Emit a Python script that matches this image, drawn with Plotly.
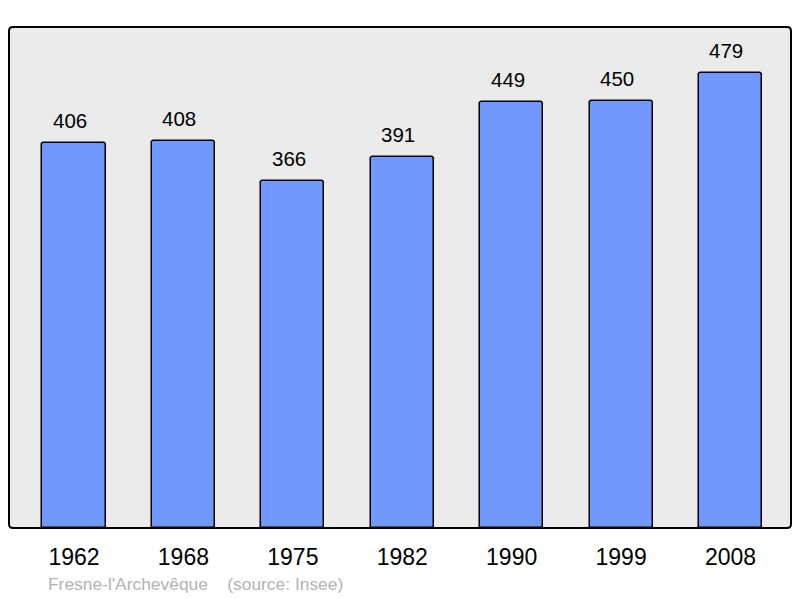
import plotly.graph_objects as go

years = ["1962", "1968", "1975", "1982", "1990", "1999", "2008"]
population = [406, 408, 366, 391, 449, 450, 479]
commune = "Fresne-l'Archevêque"
source = "(source: Insee)"

W, H = 800, 598
L, R, T, B = 9, 9, 27, 70
pw, ph = W - L - R, H - T - B
FONT = "Liberation Sans, Arial, sans-serif"

fig = go.Figure()
fig.add_trace(go.Bar(
    x=list(range(len(years))), y=population,
    width=0.576,
    marker=dict(color="#7098ff", line=dict(color="#000000", width=1.5), cornerradius=3),
    hoverinfo="skip",
))

for i, v in enumerate(population):
    fig.add_annotation(x=i, y=v, text=str(v), showarrow=False, yanchor="bottom",
                       yshift=9, xshift=-4, font=dict(family=FONT, size=20.5, color="#000"))

# rounded border
r = 4
rx, ry = r / pw, r / ph
path = (f"M {rx},0 L {1-rx},0 Q 1,0 1,{ry} L 1,{1-ry} Q 1,1 {1-rx},1 "
        f"L {rx},1 Q 0,1 0,{1-ry} L 0,{ry} Q 0,0 {rx},0 Z")
fig.add_shape(type="path", path=path, xref="paper", yref="paper",
              line=dict(color="#000000", width=2), layer="above")

fig.add_annotation(xref="paper", yref="paper", x=(46 - L) / pw, y=-(584 - (T + ph)) / ph,
                   xanchor="left", yanchor="middle", showarrow=False,
                   text=commune + "&nbsp;&nbsp;&nbsp;&nbsp;" + source,
                   font=dict(family=FONT, size=17.4, color="#b3b3b3"))

fig.update_layout(
    width=W, height=H,
    margin=dict(l=L, r=R, t=T, b=B),
    paper_bgcolor="#ffffff", plot_bgcolor="#ebebeb",
    showlegend=False,
    bargap=0,
    xaxis=dict(range=[-0.594, 6.553], tickmode="array", tickvals=list(range(len(years))),
               ticktext=years, showgrid=False, zeroline=False, showline=False,
               ticks="outside", ticklen=8, tickcolor="rgba(0,0,0,0)",
               tickfont=dict(family=FONT, size=23, color="#000")),
    yaxis=dict(range=[0, 528], showgrid=False, zeroline=False, showticklabels=False, showline=False),
)

fig.write_html("out.html", config={"displayModeBar": False},
               post_script="document.body.style.margin='0';document.body.style.overflow='hidden';")
